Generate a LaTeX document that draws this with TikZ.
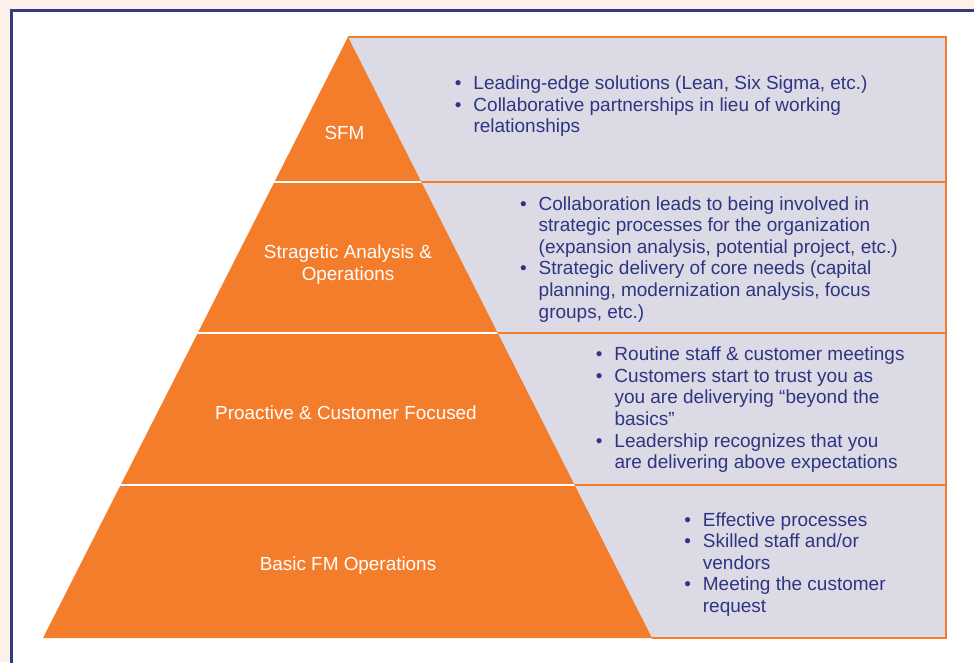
\documentclass[tikz,border=0pt]{standalone}
\usepackage{fontspec}
\setmainfont{Liberation Sans}
\definecolor{bgpeach}{HTML}{FDF0E8}
\definecolor{framenavy}{HTML}{353B82}
\definecolor{pyrorange}{HTML}{F47D2C}
\definecolor{boxgray}{HTML}{DCDAE4}
\definecolor{txtnavy}{HTML}{2E3582}
\newcommand\bl[1]{\leavevmode\llap{\textbullet\hspace{12pt}}#1}
\newcommand\blk[1]{\vtop{\hsize=420pt\baselineskip=21.6pt\parindent=0pt\raggedright\noindent #1}}
\tikzset{
  lvllabel/.style={text=white, font=\fontsize{18.9}{22}\selectfont, align=center, inner sep=0pt},
  bullettext/.style={text=txtnavy, font=\fontsize{19}{21.6}\selectfont, anchor=base west, inner sep=0pt},
  sepwhite/.style={white, line width=1.8pt},
  seporange/.style={pyrorange, line width=1.8pt}
}
\begin{document}
\begin{tikzpicture}[x=1pt,y=-1pt]
\useasboundingbox (0,0) rectangle (974,662);
% background and frame
\fill[bgpeach] (0,0) rectangle (974,662);
\fill[white] (11,10) rectangle (980,670);
\draw[framenavy, line width=2.5pt] (11.5,680) -- (11.5,10.5) -- (990,10.5);
% gray box
\fill[boxgray] (348,37) rectangle (946,638);
% pyramid
\coordinate (apex) at (348,37);
\coordinate (bl) at (43,638);
\coordinate (br) at (652,638);
\fill[pyrorange] (apex) -- (br) -- (bl) -- cycle;
% separators
\begin{scope}
  \clip (apex) -- (br) -- (bl) -- cycle;
  \draw[sepwhite] (0,182) -- (974,182);
  \draw[sepwhite] (0,333) -- (974,333);
  \draw[sepwhite] (0,485) -- (974,485);
\end{scope}
\begin{scope}
  \clip (apex) -- (br) -- (974,638) -- (974,0) -- (348,0) -- cycle;
  \draw[seporange] (0,182) -- (946,182);
  \draw[seporange] (0,333) -- (946,333);
  \draw[seporange] (0,485) -- (946,485);
\end{scope}
\draw[pyrorange, line width=1.8pt] (apex) -- (946,37) -- (946,638) -- (br);
% level labels
\node[lvllabel] (l1) at (344.5,133) {SFM};
\node[lvllabel] (l2) at (348,265) {Stragetic Analysis \&\\Operations};
\node[lvllabel] (l3) at (346,413) {Proactive \& Customer Focused};
\node[lvllabel] (l4) at (348,566) {Basic FM Operations};
% bullet blocks
\node[bullettext] (t1) at (473.3,89.5) {\blk{\bl{Leading-edge solutions (Lean, Six Sigma, etc.)}\\
\bl{Collaborative partnerships in lieu of working}\\relationships}};
\node[bullettext] (t2) at (538.5,210) {\blk{\bl{Collaboration leads to being involved in}\\
strategic processes for the organization\\
(expansion analysis, potential project, etc.)\\
\bl{Strategic delivery of core needs (capital}\\
planning, modernization analysis, focus\\
groups, etc.)}};
\node[bullettext] (t3) at (614.3,360.7) {\blk{\bl{Routine staff \& customer meetings}\\
\bl{Customers start to trust you as}\\
you are deliverying “beyond the\\
basics”\\
\bl{Leadership recognizes that you}\\
are delivering above expectations}};
\node[bullettext] (t4) at (702.7,526) {\blk{\bl{Effective processes}\\
\bl{Skilled staff and/or}\\
vendors\\
\bl{Meeting the customer}\\
request}};
\end{tikzpicture}
\end{document}
